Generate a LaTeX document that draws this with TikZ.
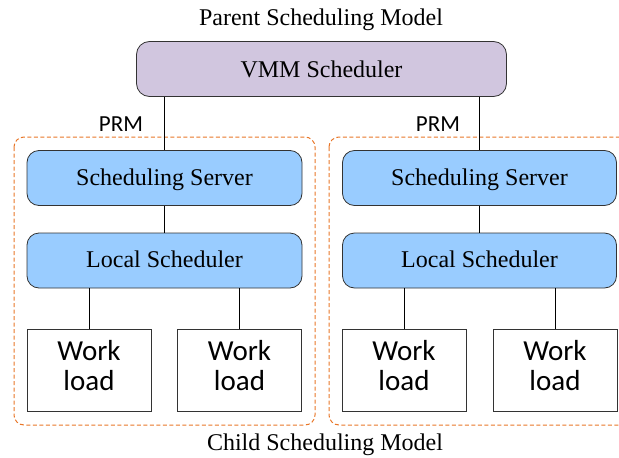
\documentclass[tikz,border=0pt]{standalone}
\usepackage{fontspec}
\setmainfont{Liberation Serif}
\newfontfamily\calib{Carlito}
\begin{document}
\begin{tikzpicture}[x=1pt,y=-1pt,
  vmmbox/.style={draw=black!80, line width=0.8pt, rounded corners=13pt, fill={rgb,255:red,209;green,198;blue,223}, font=\fontsize{24}{28}\selectfont, inner sep=0pt},
  bluebox/.style={draw=black!80, line width=0.8pt, rounded corners=12pt, fill={rgb,255:red,153;green,204;blue,255}, font=\fontsize{24}{28}\selectfont, inner sep=0pt, text depth=2pt},
  wlbox/.style={draw=black!80, line width=0.8pt, fill=white, font=\calib\fontsize{29}{30}\selectfont, align=center, inner sep=0pt, text depth=9pt},
  groupbox/.style={draw={rgb,255:red,232;green,118;blue,40}, line width=1pt, dash pattern=on 4pt off 2.5pt, rounded corners=10pt},
  conn/.style={draw=black, line width=1pt},
  prm/.style={font=\calib\fontsize{23}{26}\selectfont},
  titletext/.style={font=\fontsize{24}{28}\selectfont}
]
\useasboundingbox (0,0) rectangle (619,458);
% group boxes
\draw[groupbox] (14,137) rectangle (315,425);
\draw[groupbox] (329,137) rectangle (640,425);
% titles
\node[titletext] (ptitle) at (321,20) {Parent Scheduling Model};
\node[titletext] (ctitle) at (325,445) {Child Scheduling Model};
% VMM
\node[vmmbox, minimum width=370pt, minimum height=55pt] (vmm) at (321.5,69) {VMM Scheduler};
% scheduling boxes
\node[bluebox, minimum width=275pt, minimum height=55pt] (ss1) at (164.5,178) {Scheduling Server};
\node[bluebox, minimum width=275pt, minimum height=55pt] (ls1) at (164.5,260.5) {Local Scheduler};
\node[bluebox, minimum width=274pt, minimum height=55pt] (ss2) at (479.5,178) {Scheduling Server};
\node[bluebox, minimum width=274pt, minimum height=55pt] (ls2) at (479.5,260.5) {Local Scheduler};
% workloads
\node[wlbox, minimum width=124pt, minimum height=82pt] (w1) at (89,370) {Work\\load};
\node[wlbox, minimum width=124pt, minimum height=82pt] (w2) at (239.5,370) {Work\\load};
\node[wlbox, minimum width=124pt, minimum height=82pt] (w3) at (404,370) {Work\\load};
\node[wlbox, minimum width=124pt, minimum height=82pt] (w4) at (555,370) {Work\\load};
% connectors
\draw[conn] (vmm.south -| ss1) -- (ss1.north);
\draw[conn] (vmm.south -| ss2) -- (ss2.north);
\draw[conn] (ss1) -- (ls1);
\draw[conn] (ss2) -- (ls2);
\draw[conn] (ls1.south -| w1) -- (w1.north);
\draw[conn] (ls1.south -| w2) -- (w2.north);
\draw[conn] (ls2.south -| w3) -- (w3.north);
\draw[conn] (ls2.south -| w4) -- (w4.north);
% PRM labels
\node[prm] (prm1) at (121,124) {PRM};
\node[prm] (prm2) at (438,124) {PRM};
\end{tikzpicture}
\end{document}
